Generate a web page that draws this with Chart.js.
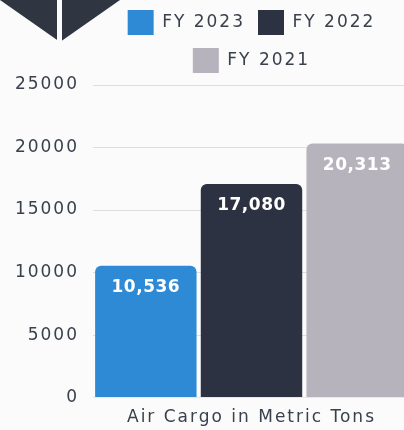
<!DOCTYPE html>
<html><head><meta charset="utf-8">
<script src="https://cdn.jsdelivr.net/npm/chart.js@4.4.1/dist/chart.umd.min.js"></script>
<style>
html,body{margin:0;padding:0;background:#fbfbfb;overflow:hidden;width:404px;height:430px;}
#wrap{position:absolute;left:0;top:0;width:412px;height:430px;}
#deco{position:absolute;left:0;top:0;width:120px;height:42px;background:#2f3642;clip-path:polygon(0 0,120px 0,60px 42px);}
#gap{position:absolute;left:57px;top:0;width:5px;height:42px;background:#fbfbfb;}
</style></head>
<body>
<div id="wrap"><canvas id="c" width="412" height="430"></canvas></div>
<div id="deco"></div><div id="gap"></div>
<script>
const categories = ["Air Cargo in Metric Tons"];
const seriesNames = ["FY 2023", "FY 2022", "FY 2021"];
const fy2023 = [10536];
const fy2022 = [17080];
const fy2021 = [20313];
const yTicks = [0, 5000, 10000, 15000, 20000, 25000];
const colors = ["#2e8ad4", "#2d3242", "#b6b3bd"];
const txt = "#3a404c";

const spacingPlugin = {
  id: 'spacing',
  beforeLayout(chart) { chart.ctx.letterSpacing = '2px'; },
  beforeDraw(chart) { chart.ctx.letterSpacing = '2px'; }
};

const legendGap = {
  id: 'legendGap',
  beforeInit(chart) {
    const lg = chart.legend;
    if (lg) {
      const orig = lg.fit;
      lg.fit = function () { orig.call(this); this.height += 2; };
    }
  }
};

const labelPlugin = {
  id: 'barLabels',
  afterDatasetsDraw(chart) {
    const ctx = chart.ctx;
    ctx.save();
    ctx.letterSpacing = '0.5px';
    ctx.font = "bold 17px 'DejaVu Sans'";
    ctx.fillStyle = "#ffffff";
    ctx.textAlign = "center";
    ctx.textBaseline = "middle";
    chart.data.datasets.forEach((ds, i) => {
      const meta = chart.getDatasetMeta(i);
      meta.data.forEach((bar, j) => {
        ctx.fillText(ds.data[j].toLocaleString('en-US'), bar.x, bar.y + 22);
      });
    });
    ctx.restore();
  }
};

new Chart(document.getElementById('c'), {
  type: 'bar',
  data: {
    labels: categories,
    datasets: [
      {label: seriesNames[0], data: fy2023, backgroundColor: colors[0]},
      {label: seriesNames[1], data: fy2022, backgroundColor: colors[1]},
      {label: seriesNames[2], data: fy2021, backgroundColor: colors[2]}
    ]
  },
  options: {
    responsive: false,
    animation: false,
    devicePixelRatio: 1,
    layout: {padding: {left: 4, right: 2, top: -3, bottom: -8}},
    datasets: {bar: {categoryPercentage: 1.0, barPercentage: 0.96, borderRadius: {topLeft: 6, topRight: 6}, borderSkipped: 'bottom'}},
    plugins: {
      legend: {
        position: 'top',
        fullSize: false,
        labels: {
          boxWidth: 26, boxHeight: 25, padding: 13,
          color: txt,
          font: {family: "'DejaVu Sans'", size: 17}
        }
      },
      tooltip: {enabled: false}
    },
    scales: {
      x: {
        grid: {display: false, drawTicks: false},
        border: {display: true, color: '#e8e8e8'},
        ticks: {color: txt, font: {family: "'DejaVu Sans'", size: 17}, padding: 10}
      },
      y: {
        min: 0, max: 25000,
        afterBuildTicks(axis) { axis.ticks = yTicks.map(v => ({value: v})); },
        afterFit(axis) { axis.width = 89; },
        grid: {color: '#dedede', drawTicks: false},
        border: {display: false},
        ticks: {color: txt, font: {family: "'DejaVu Sans'", size: 17}, padding: 14,
                callback: (v) => String(v)}
      }
    }
  },
  plugins: [spacingPlugin, legendGap, labelPlugin]
});
</script>
</body></html>
